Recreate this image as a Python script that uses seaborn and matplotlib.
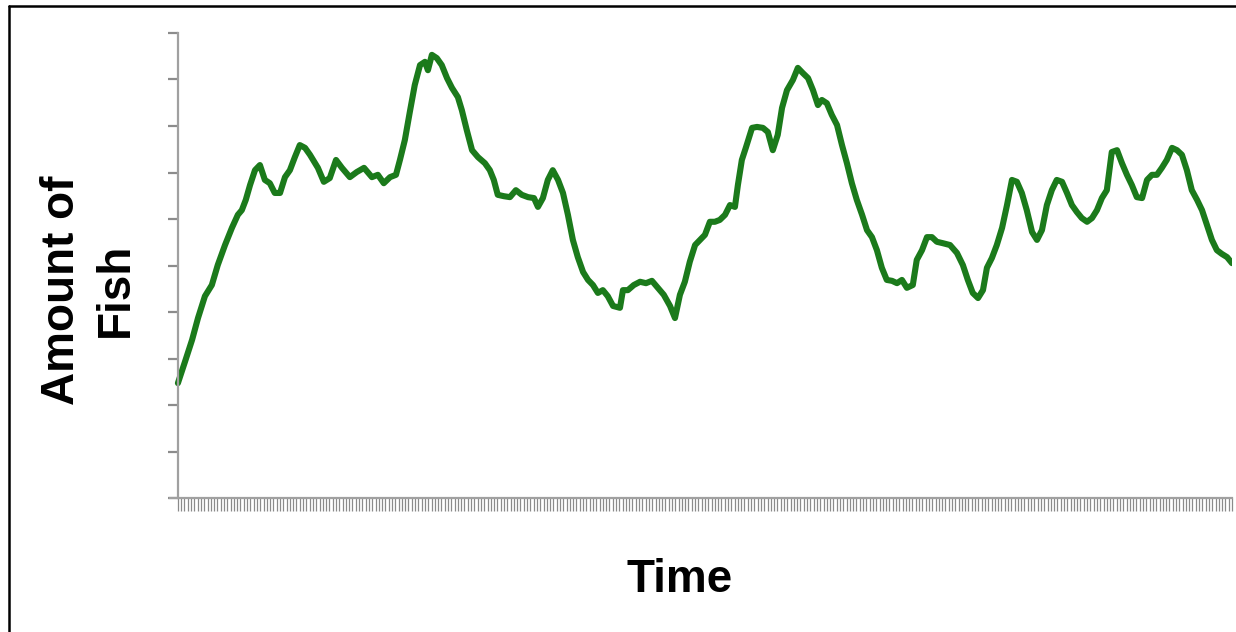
import numpy as np
import pandas as pd
import matplotlib
matplotlib.use('Agg')
import matplotlib.pyplot as plt
from matplotlib.lines import Line2D
import seaborn as sns

# time steps and amount of fish (arbitrary units, axis has no labels)
time = [0, 2.1, 4.3, 6.1, 8.2, 10.3, 12.1, 14.3, 16.4, 18.2, 19.4, 20.6, 21.9, 23.4, 24.9,
        26.4, 27.9, 29.4, 31.0, 32.5, 34.0, 35.5, 37.0, 38.6, 40.1, 42.5, 44.3, 46.1, 48.0,
        49.8, 52.2, 54.3, 56.5, 58.9, 60.7, 62.5, 64.4, 66.2, 67.4, 68.9, 70.4, 71.9, 73.5,
        75.0, 75.9, 77.1, 78.6, 80.1, 81.7, 83.2, 85.0, 86.2, 87.7, 89.3, 91.1, 93.2, 94.7,
        95.9, 97.1, 99.0, 100.8, 102.6, 104.4, 106.3, 108.1, 109.3, 110.8, 112.3, 113.8,
        115.4, 116.9, 118.4, 119.9, 121.4, 123.0, 124.5, 126.0, 127.5, 129.0, 130.5, 132.1,
        134.2, 135.1, 136.6, 138.4, 140.3, 142.1, 143.9, 145.7, 147.5, 149.4, 150.9, 152.4,
        153.9, 155.4, 157.0, 158.5, 160.0, 161.5, 163.0, 164.5, 166.1, 167.6, 169.1, 170.0,
        171.2, 172.4, 174.3, 175.8, 177.6, 179.1, 180.6, 182.1, 183.4, 184.9, 186.7, 188.2,
        189.7, 191.3, 192.8, 194.3, 195.5, 197.0, 198.5, 200.1, 201.6, 203.1, 204.6, 206.1,
        207.7, 209.2, 210.7, 212.2, 213.7, 215.2, 216.8, 218.3, 219.8, 221.3, 223.1, 224.3,
        225.9, 227.4, 228.9, 230.4, 232.2, 234.4, 236.5, 238.3, 239.8, 241.3, 242.9, 244.4,
        245.6, 247.1, 248.6, 250.2, 251.7, 253.2, 254.7, 256.2, 257.7, 259.3, 260.8, 262.3,
        263.8, 265.3, 266.8, 268.4, 269.9, 271.4, 272.9, 274.4, 276.0, 277.5, 279.0, 280.5,
        282.0, 283.5, 285.1, 286.6, 288.1, 289.6, 291.1, 292.7, 294.2, 295.7, 297.2, 298.7,
        300.2, 301.8, 303.3, 304.8, 306.3, 307.8, 309.4, 310.9, 312.4, 313.9, 315.4, 316.9,
        318.5, 320.0]
fish = [24.7, 29.2, 34.0, 38.7, 43.4, 45.8, 50.1, 54.4, 58.1, 60.9, 61.9, 64.1, 67.3, 70.5, 71.6,
        68.4, 67.7, 65.6, 65.6, 69.0, 70.5, 73.3, 75.9, 75.3, 73.8, 71.0, 68.0, 68.8, 72.7,
        71.0, 69.0, 70.1, 71.0, 69.0, 69.5, 67.7, 69.0, 69.5, 72.7, 77.0, 83.0, 88.8, 93.1,
        93.8, 92.0, 95.3, 94.6, 93.1, 90.3, 88.2, 86.2, 83.4, 79.1, 74.8, 73.3, 72.0, 70.5,
        68.4, 65.2, 64.9, 64.7, 66.2, 65.2, 64.7, 64.5, 62.6, 64.5, 68.4, 70.5,
        68.4, 65.6, 60.9, 55.5, 51.8, 48.6, 46.9, 45.8, 44.1, 44.7, 43.4, 41.3,
        40.9, 44.7, 44.7, 45.8, 46.5, 46.2, 46.7, 45.2, 43.7, 41.3, 38.7, 43.7,
        46.5, 50.8, 54.4, 55.5, 56.6, 59.4, 59.4, 59.8, 60.9, 63.0, 62.6, 67.3,
        72.7, 75.3, 79.6, 79.8, 79.6, 78.7, 74.8, 78.1, 83.9, 87.7, 89.9, 92.5,
        91.4, 90.3, 87.7, 84.5, 85.6, 84.9, 82.4, 80.2, 75.9, 72.0, 67.7, 64.1,
        60.9, 57.6, 56.1, 53.3, 49.5, 46.9, 46.7, 46.2, 46.9, 45.2, 45.8, 51.2,
        53.3, 56.1, 56.1, 55.1, 54.8, 54.4, 52.7, 50.1, 46.9, 44.1, 43.0, 44.7,
        49.5, 51.6, 54.4, 58.1, 63.0, 68.4, 68.0, 65.6, 61.9, 57.2, 55.5, 57.6,
        63.0, 66.2, 68.4, 68.0, 65.6, 63.0, 61.5, 60.2, 59.4, 60.2, 61.9, 64.5,
        66.2, 74.4, 74.8, 72.0, 69.5, 67.3, 64.7, 64.5, 68.4, 69.5, 69.5, 71.0,
        72.7, 75.3, 74.8, 73.8, 70.5, 66.2, 64.1, 61.9, 58.7, 55.5, 53.3, 52.5,
        51.8, 50.5]
y_ticks = list(range(0, 101, 10))
x_ticks = list(range(0, 321))

df = pd.DataFrame({'Time': time, 'Fish': fish})

sns.set_style('white')
plt.rcParams['font.family'] = ['Liberation Sans', 'DejaVu Sans']

fig = plt.figure(figsize=(12.36, 6.32), dpi=100)
ax = fig.add_axes([170 / 1236, 1 - 498 / 632, 1062 / 1236, 465 / 632])

sns.lineplot(data=df, x='Time', y='Fish', ax=ax, color='#1b7a1b', linewidth=4.4)

ax.set_xlim(-2.4, 320)
ax.set_ylim(0, 100)
ax.spines['left'].set_position(('data', 0))
for s in ['top', 'right']:
    ax.spines[s].set_visible(False)
for s in ['left', 'bottom']:
    ax.spines[s].set_color('#a0a0a0')
    ax.spines[s].set_linewidth(1.6)

ax.set_yticks(y_ticks)
ax.set_xticks(x_ticks)
ax.tick_params(axis='y', direction='out', length=7.5, width=1.6, color='#8c8c8c',
               labelleft=False, left=True)
ax.tick_params(axis='x', direction='out', length=9, width=0.9, color='#8a8a8a',
               labelbottom=False, bottom=True)
ax.set_xlabel('')
ax.set_ylabel('')

fig.text(680 / 1236, 1 - 580 / 632, 'Time', fontsize=33, fontweight='bold',
         color='black', ha='center', va='center')
fig.text(89 / 1236, 1 - 290 / 632, 'Amount of\nFish', fontsize=33, fontweight='bold',
         color='black', rotation=90, ha='center', va='center', multialignment='center',
         linespacing=1.3)

# frame around the slide (only left and top edges show)
fig.add_artist(Line2D([9 / 1236, 9 / 1236], [0, 1 - 6 / 632], color='black', linewidth=1.8,
                      transform=fig.transFigure))
fig.add_artist(Line2D([9 / 1236, 1], [1 - 6 / 632, 1 - 6 / 632], color='black', linewidth=1.8,
                      transform=fig.transFigure))

fig.savefig('out.png', dpi=100)
